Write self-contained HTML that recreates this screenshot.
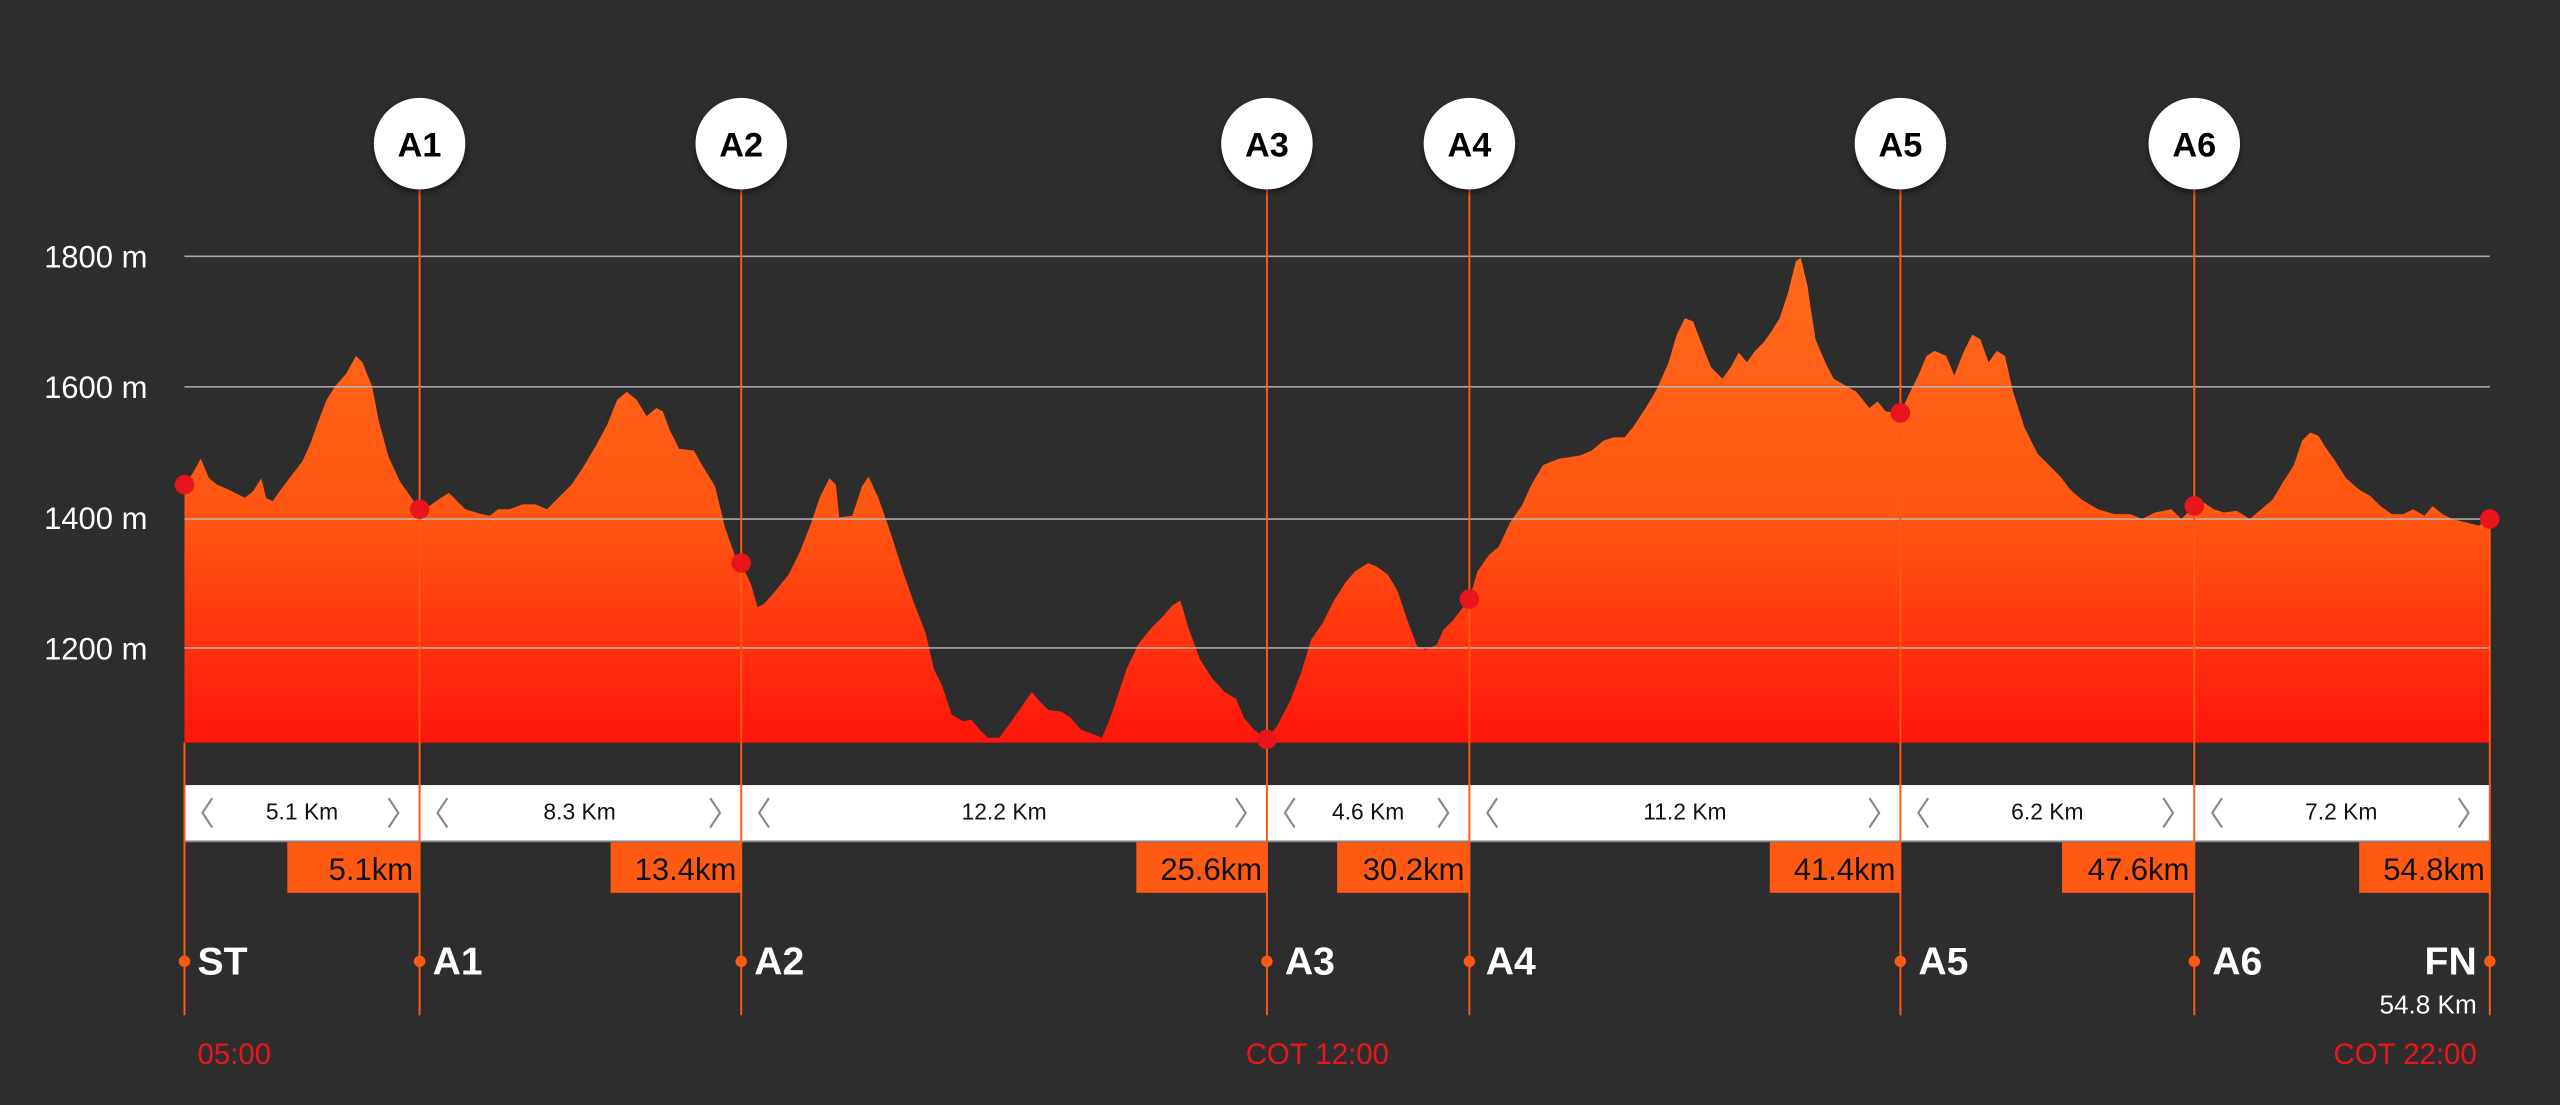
<!DOCTYPE html>
<html><head><meta charset="utf-8"><style>
html,body{margin:0;padding:0;background:#2d2d2d;}
svg{display:block;}
text{font-family:"Liberation Sans",sans-serif;}
</style></head><body>
<svg width="2560" height="1105" viewBox="0 0 1568 677" preserveAspectRatio="none" xmlns="http://www.w3.org/2000/svg">
<defs>
<linearGradient id="g" x1="0" y1="0" x2="0" y2="1" gradientUnits="objectBoundingBox">
<stop offset="0" stop-color="#ff6a1c"/><stop offset="0.55" stop-color="#ff5512"/><stop offset="1" stop-color="#ff150c"/>
</linearGradient>
<filter id="sh" x="-30%" y="-30%" width="160%" height="160%"><feDropShadow dx="0" dy="2" stdDeviation="2" flood-color="#000" flood-opacity="0.5"/></filter>
</defs>
<rect width="1568" height="677" fill="#2d2d2d"/>
<g fill="#fff" font-size="19">
<text x="27" y="164">1800 m</text><text x="27" y="244">1600 m</text><text x="27" y="324">1400 m</text><text x="27" y="404">1200 m</text>
</g>
<polygon fill="url(#g)" points="113,455 113,297 118,290 123,281 128,293 133,297 140,300 150,305 155,301 160,293 163,305 167,307 172,300 178,292 185,283 190,272 195,258 200,245 205,237 212,229 218,218 222,222 228,237 232,258 238,280 245,295 252,305 257,312 263,310 270,305 275,302 280,307 285,312 295,315 300,316 305,312 312,312 320,309 328,309 335,312 342,305 350,297 358,285 365,273 372,260 378,245 384,240 390,245 396,255 402,250 406,252 410,263 416,275 425,276 430,285 438,298 444,323 450,340 454,345 460,358 464,372 468,370 475,362 483,352 490,338 497,320 502,305 508,293 512,297 514,317 522,316 528,298 532,292 538,305 545,325 553,350 560,370 567,388 572,410 577,420 583,438 590,442 595,441 600,447 605,452 612,452 618,444 625,434 632,424 637,430 642,435 650,436 656,440 662,447 670,450 675,452 680,440 685,425 690,410 697,395 705,385 712,378 718,371 723,368 728,385 735,404 742,415 750,424 757,428 762,440 768,447 776,453 782,445 790,430 797,412 803,392 810,382 817,368 824,357 830,350 838,345 843,347 850,352 856,362 862,380 868,396 873,398 880,395 884,386 890,380 900,367 905,350 912,340 918,335 925,320 932,310 938,297 945,285 950,283 955,281 962,280 968,279 975,276 982,270 988,268 995,268 1000,262 1008,250 1015,238 1022,222 1027,205 1032,195 1037,197 1042,210 1048,225 1055,232 1060,225 1065,216 1070,222 1075,215 1080,210 1085,203 1090,195 1095,180 1100,160 1103,158 1107,175 1112,208 1118,222 1123,232 1130,236 1137,240 1145,250 1150,246 1155,252 1164,253 1170,240 1175,230 1180,218 1185,215 1192,218 1197,230 1203,215 1208,205 1213,208 1218,222 1223,215 1228,218 1233,240 1240,262 1248,278 1255,285 1262,292 1268,300 1275,306 1285,312 1295,315 1305,315 1312,318 1320,314 1330,312 1336,318 1344,310 1350,308 1356,312 1362,314 1370,313 1378,318 1385,312 1392,306 1398,296 1405,285 1410,270 1415,265 1420,267 1425,275 1430,282 1437,293 1445,300 1452,304 1458,310 1465,315 1472,315 1478,312 1485,316 1490,310 1496,315 1502,318 1510,320 1518,322 1525,318 1525,455"/>
<g stroke="#bdbdbd" stroke-width="1" opacity="0.85">
<line x1="113" y1="157" x2="1525" y2="157"/><line x1="113" y1="237" x2="1525" y2="237"/><line x1="113" y1="318" x2="1525" y2="318"/><line x1="113" y1="397" x2="1525" y2="397"/>
</g>
<rect x="113" y="481" width="1412" height="34" fill="#fff"/>
<line x1="113" y1="515.5" x2="1525" y2="515.5" stroke="#888" stroke-width="1"/>
<g stroke="#ff5a14" stroke-width="1.2">
<line x1="113" y1="455" x2="113" y2="622"/>
<line x1="257" y1="115" x2="257" y2="622"/>
<line x1="454" y1="115" x2="454" y2="622"/>
<line x1="776" y1="115" x2="776" y2="622"/>
<line x1="900" y1="115" x2="900" y2="622"/>
<line x1="1164" y1="115" x2="1164" y2="622"/>
<line x1="1344" y1="115" x2="1344" y2="622"/>
<line x1="1525" y1="318" x2="1525" y2="622"/>
</g>
<g fill="#e8161c">
<circle cx="113" cy="297" r="6"/><circle cx="257" cy="312" r="6"/><circle cx="454" cy="345" r="6"/><circle cx="776" cy="453" r="6"/><circle cx="900" cy="367" r="6"/><circle cx="1164" cy="253" r="6"/><circle cx="1344" cy="310" r="6"/><circle cx="1525" cy="318" r="6"/>
</g>
<g filter="url(#sh)" fill="#fff">
<circle cx="257" cy="88" r="28"/><circle cx="454" cy="88" r="28"/><circle cx="776" cy="88" r="28"/><circle cx="900" cy="88" r="28"/><circle cx="1164" cy="88" r="28"/><circle cx="1344" cy="88" r="28"/>
</g>
<g fill="#000" font-size="21" font-weight="bold" text-anchor="middle">
<text x="257" y="96">A1</text><text x="454" y="96">A2</text><text x="776" y="96">A3</text><text x="900" y="96">A4</text><text x="1164" y="96">A5</text><text x="1344" y="96">A6</text>
</g>
<g fill="#111" font-size="14" text-anchor="middle">
<text x="185" y="502">5.1 Km</text><text x="355" y="502">8.3 Km</text><text x="615" y="502">12.2 Km</text><text x="838" y="502">4.6 Km</text><text x="1032" y="502">11.2 Km</text><text x="1254" y="502">6.2 Km</text><text x="1434" y="502">7.2 Km</text>
</g>
<g fill="none" stroke="#888" stroke-width="1.3">
<path d="M130,489 l-6,9 6,9"/><path d="M238,489 l6,9 -6,9"/>
<path d="M274,489 l-6,9 6,9"/><path d="M435,489 l6,9 -6,9"/>
<path d="M471,489 l-6,9 6,9"/><path d="M757,489 l6,9 -6,9"/>
<path d="M793,489 l-6,9 6,9"/><path d="M881,489 l6,9 -6,9"/>
<path d="M917,489 l-6,9 6,9"/><path d="M1145,489 l6,9 -6,9"/>
<path d="M1181,489 l-6,9 6,9"/><path d="M1325,489 l6,9 -6,9"/>
<path d="M1361,489 l-6,9 6,9"/><path d="M1506,489 l6,9 -6,9"/>
</g>
<g fill="#ff5a14">
<rect x="176" y="516" width="81" height="31"/><rect x="374" y="516" width="80" height="31"/><rect x="696" y="516" width="80" height="31"/><rect x="819" y="516" width="81" height="31"/><rect x="1084" y="516" width="80" height="31"/><rect x="1263" y="516" width="81" height="31"/><rect x="1445" y="516" width="80" height="31"/>
</g>
<g fill="#111" font-size="19" text-anchor="end">
<text x="253" y="539">5.1km</text><text x="451" y="539">13.4km</text><text x="773" y="539">25.6km</text><text x="897" y="539">30.2km</text><text x="1161" y="539">41.4km</text><text x="1341" y="539">47.6km</text><text x="1522" y="539">54.8km</text>
</g>
<g fill="#ff5a14">
<circle cx="113" cy="589" r="3.5"/><circle cx="257" cy="589" r="3.5"/><circle cx="454" cy="589" r="3.5"/><circle cx="776" cy="589" r="3.5"/><circle cx="900" cy="589" r="3.5"/><circle cx="1164" cy="589" r="3.5"/><circle cx="1344" cy="589" r="3.5"/><circle cx="1525" cy="589" r="3.5"/>
</g>
<g fill="#fff" font-size="24" font-weight="bold">
<text x="121" y="597">ST</text><text x="265" y="597">A1</text><text x="462" y="597">A2</text><text x="787" y="597">A3</text><text x="910" y="597">A4</text><text x="1175" y="597">A5</text><text x="1355" y="597">A6</text>
<text x="1517" y="597" text-anchor="end">FN</text>
</g>
<text x="1517" y="621" fill="#fff" font-size="16" text-anchor="end">54.8 Km</text>
<g fill="#e8161c" font-size="18">
<text x="121" y="652">05:00</text><text x="763" y="652">COT 12:00</text><text x="1517" y="652" text-anchor="end">COT 22:00</text>
</g>
</svg>
</body></html>
